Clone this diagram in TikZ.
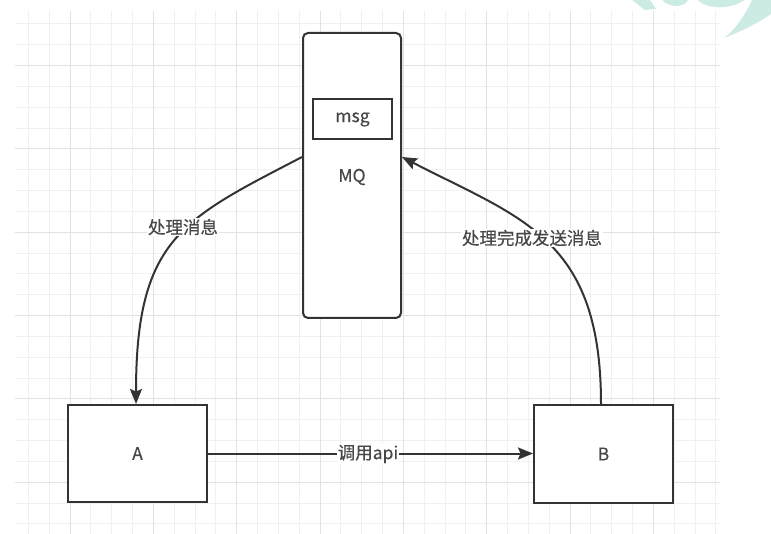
\documentclass[tikz,border=0pt]{standalone}
\usepackage{fontspec}
\setmainfont{Noto Sans CJK SC}[FakeBold=0.4]
\usetikzlibrary{arrows.meta,calc}
\definecolor{gridminor}{HTML}{F0F0F0}
\definecolor{gridmajor}{HTML}{E2E2E2}
\definecolor{ink}{HTML}{333333}
\definecolor{txt}{HTML}{474747}
\definecolor{wm}{HTML}{CDEBE5}
\begin{document}
\begin{tikzpicture}[x=1pt,y=-1pt,
  box/.style={draw=ink,line width=2pt,fill=white,inner sep=0pt,text=txt,font=\fontsize{17.5}{20}\selectfont},
  lbl/.style={fill=white,text=txt,inner sep=1pt,font=\fontsize{17.5}{20}\selectfont},
  conn/.style={draw=ink,line width=2pt,-{Stealth[length=15pt,width=12pt,inset=2.5pt]}}]
\useasboundingbox (0,0) rectangle (771,534);
\fill[white] (0,0) rectangle (771,534);
% grid
\foreach \k in {0,...,33} {\draw[gridminor,line width=1pt] ({28.5+20.83*\k},11) -- ({28.5+20.83*\k},534);}
\foreach \k in {0,...,24} {\draw[gridminor,line width=1pt] (15,{24+20.83*\k}) -- (720,{24+20.83*\k});}
\foreach \j in {0,...,7} {\draw[gridmajor,line width=1pt] ({70.16+83.32*\j},11) -- ({70.16+83.32*\j},534);}
\foreach \j in {0,...,5} {\draw[gridmajor,line width=1pt] (15,{65.66+83.32*\j}) -- (720,{65.66+83.32*\j});}
% watermark
\fill[wm] (632,0) -- (650,0) -- (656,9) -- (645,10) -- cycle;
\fill[wm] (662,0) -- (688,0) .. controls (684,8) and (670,8) .. (662,0);
\fill[wm] (698,0) .. controls (705,8) and (722,9) .. (735,5) -- (745,0) -- cycle;
\fill[wm] (771,0) -- (752,0) .. controls (745,15) and (735,30) .. (724,38) .. controls (740,32) and (760,22) .. (771,14) -- cycle;
% nodes
\node[box,rounded corners=5pt,minimum width=98pt,minimum height=285pt] (mq) at (352,175.5) {};
\node[box,minimum width=79pt,minimum height=40pt] (msg) at (352.5,119.5) {msg};
\node[text=txt,font=\fontsize{17.5}{20}\selectfont,inner sep=0pt] (mqt) at (352,177) {MQ};
\node[box,minimum width=139pt,minimum height=97pt] (a) at (137.5,453.5) {A};
\node[box,minimum width=139pt,minimum height=98pt] (b) at (603.5,454) {B};
% connectors
\draw[conn] ([yshift=18.5pt]mq.west) .. controls (183,219) and (136,238) .. ([xshift=-1.5pt]a.north);
\draw[conn] ([xshift=-2.5pt]b.north) .. controls (601,238) and (522,219) .. ([yshift=18.5pt]mq.east);
\draw[conn] (a.east) -- (a.east -| b.west);
% labels
\node[lbl] (l1) at (183,227) {处理消息};
\node[lbl] (l2) at (532,238) {处理完成发送消息};
\node[lbl] (l3) at (368,454) {调用api};
\end{tikzpicture}
\end{document}
